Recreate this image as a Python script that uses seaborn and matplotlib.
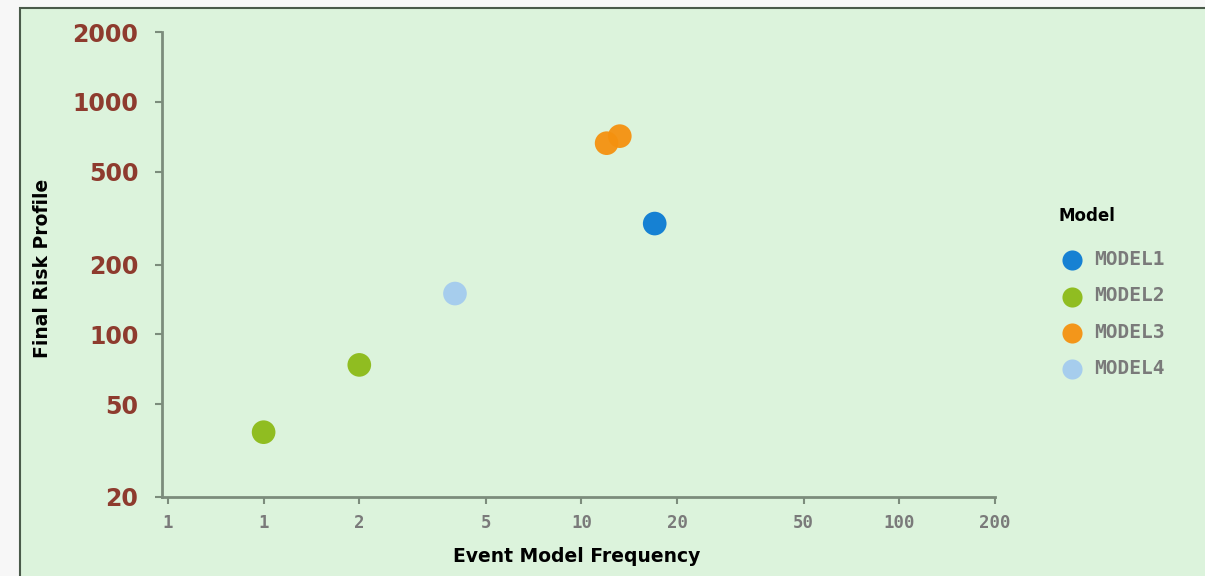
import pandas as pd
import matplotlib
matplotlib.use("Agg")
import matplotlib.pyplot as plt
import matplotlib.patches as mpatches
import seaborn as sns

# datos
models = ["MODEL1", "MODEL2", "MODEL2", "MODEL3", "MODEL3", "MODEL4"]
frequency = [17, 1, 2, 12, 13.2, 4]
risk = [300, 38, 74, 665, 713, 150]

x_ticks = [0.5, 1, 2, 5, 10, 20, 50, 100, 200]
x_labels = ["1", "1", "2", "5", "10", "20", "50", "100", "200"]
y_ticks = [20, 50, 100, 200, 500, 1000, 2000]

colores = {"MODEL1": "#0b7bd3", "MODEL2": "#8cba17", "MODEL3": "#f5910f", "MODEL4": "#a3cbef"}

df = pd.DataFrame({"Model": models, "freq": frequency, "risk": risk})

W, H = 1205, 576
fig = plt.figure(figsize=(W / 100, H / 100), dpi=100, facecolor="#f7f7f7")
fondo = mpatches.Rectangle((20 / W, -0.01), 1.0, 1 - 8 / H + 0.01, transform=fig.transFigure,
                           facecolor="#dcf3dc", edgecolor="#4a5a4a", linewidth=1.5, zorder=-10)
fig.patches.append(fondo)

ax = fig.add_axes([162 / W, 1 - 497 / H, (995 - 162) / W, (497 - 32) / H])
ax.set_facecolor("none")

sns.scatterplot(data=df, x="freq", y="risk", hue="Model", palette=colores,
                hue_order=["MODEL1", "MODEL2", "MODEL3", "MODEL4"],
                s=290, edgecolor="none", alpha=0.95, ax=ax, legend=True)

ax.set_xscale("log")
ax.set_yscale("log")
ax.set_xlim(0.479, 200)
ax.set_ylim(20, 2000)
ax.set_xticks(x_ticks)
ax.set_xticklabels(x_labels)
ax.set_yticks(y_ticks)
ax.set_yticklabels([str(v) for v in y_ticks])
ax.minorticks_off()

for lado in ["top", "right"]:
    ax.spines[lado].set_visible(False)
for lado in ["left", "bottom"]:
    ax.spines[lado].set_color("#7c8c7c")
    ax.spines[lado].set_linewidth(2)

ax.tick_params(axis="both", colors="#7c8c7c", length=5, width=1.5, direction="out")
for t in ax.get_yticklabels():
    t.set_color("#8e3b2e")
    t.set_fontsize(17)
    t.set_fontweight("bold")
for t in ax.get_xticklabels():
    t.set_color("#7a7a7a")
    t.set_fontsize(12.5)
    t.set_fontweight("bold")
    t.set_family("DejaVu Sans Mono")
ax.tick_params(axis="y", pad=12)
ax.tick_params(axis="x", pad=7)

ax.set_xlabel("Event Model Frequency", fontsize=13.5, fontweight="bold")
ax.set_ylabel("Final Risk Profile", fontsize=13.5, fontweight="bold")
ax.xaxis.set_label_coords(0.498, -0.129)
ax.yaxis.set_label_coords(-0.144, 0.4925)
ax.xaxis.label.set_va("center")
ax.yaxis.label.set_va("center")

leg = ax.legend(title="Model", loc="upper left", bbox_to_anchor=(1058 / W, 1 - 207 / H),
                bbox_transform=fig.transFigure, frameon=False, handletextpad=0.6,
                labelspacing=1.25, markerscale=0.85, borderaxespad=0, borderpad=0)
leg.get_title().set_fontweight("bold")
leg.get_title().set_fontsize(12)
leg._legend_box.align = "left"
leg._legend_box.sep = 18
for t in leg.get_texts():
    t.set_color("#7a7a7a")
    t.set_fontweight("bold")
    t.set_family("DejaVu Sans Mono")
    t.set_fontsize(14)

fig.savefig("out.png", dpi=100, facecolor=fig.get_facecolor())
